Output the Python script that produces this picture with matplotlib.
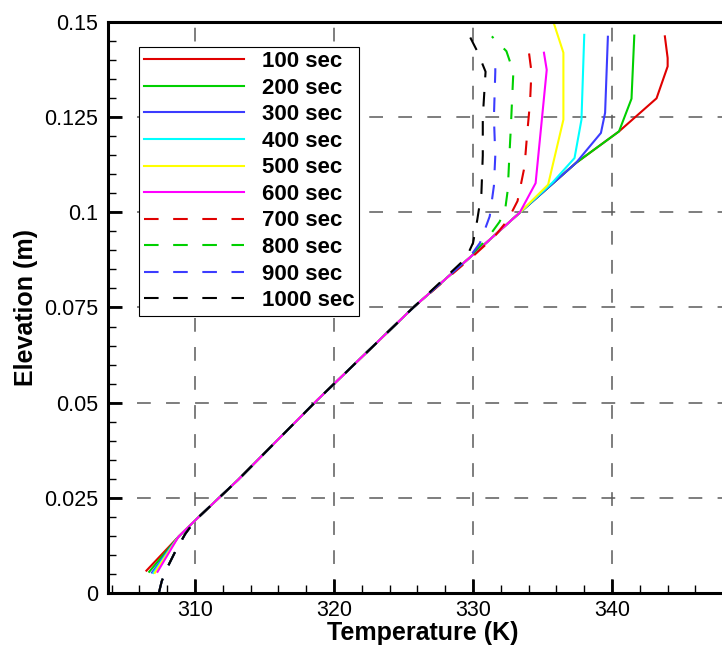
import matplotlib
matplotlib.use("Agg")
import matplotlib.pyplot as plt
from matplotlib.ticker import MultipleLocator, FuncFormatter

plt.rcParams['font.family'] = ['Liberation Sans', 'DejaVu Sans']

# shared part of the profile (bottom to mid-height)
trunk_T = [310.0, 313.1, 318.8, 325.7, 330.0, 333.35]
trunk_z = [0.019, 0.0297, 0.0507, 0.075, 0.0889, 0.0999]

dash_trunk_T = [307.4, 307.6, 308.0, 308.6, 309.3, 310.0, 313.1, 318.8, 325.7]
dash_trunk_z = [0.0, 0.003, 0.0066, 0.011, 0.0155, 0.019, 0.0297, 0.0507, 0.075]

labels = ['100 sec', '200 sec', '300 sec', '400 sec', '500 sec',
          '600 sec', '700 sec', '800 sec', '900 sec', '1000 sec']
colors = ['#e00000', '#00d000', '#3c3cff', '#00ffff', '#ffff00',
          '#ff00ff', '#e00000', '#00d000', '#3c3cff', '#000000']
styles = ['-'] * 6 + ['--'] * 4

# per-series bottom and top sections
bottom_T = [
    [306.5, 308.8], [306.7, 308.8], [306.9, 308.8],
    [307.0, 308.8], [307.1, 308.8], [307.3, 308.8],
]
bottom_z = [
    [0.0058, 0.0147], [0.0055, 0.0147], [0.0053, 0.0147],
    [0.0052, 0.0147], [0.0052, 0.0147], [0.0055, 0.0147],
]
top_T = [
    [337.4, 340.5, 343.2, 344.0, 344.0, 343.8],
    [337.4, 340.5, 341.4, 341.6],
    [337.4, 339.2, 339.5, 339.7],
    [335.7, 337.3, 337.8, 338.0],
    [335.4, 336.5, 336.5, 335.7],
    [334.5, 335.3, 335.1],
    [330.0, 331.5, 332.5, 333.2, 333.7, 333.9, 334.1, 334.2, 333.9],
    [329.8, 331.0, 331.9, 332.3, 332.5, 332.6, 332.7, 332.8, 332.9, 332.4, 331.35],
    [329.7, 330.5, 331.2, 331.5, 331.6, 331.5, 331.6, 331.6],
    [329.5, 330.0, 330.3, 330.6, 330.7, 330.7, 330.9, 330.3, 329.8],
]
top_z = [
    [0.113, 0.1213, 0.130, 0.1384, 0.1406, 0.1463],
    [0.113, 0.1213, 0.1299, 0.1465],
    [0.113, 0.1209, 0.1262, 0.1462],
    [0.1078, 0.1143, 0.1244, 0.1467],
    [0.1073, 0.1244, 0.142, 0.151],
    [0.1077, 0.1375, 0.142],
    [0.0885, 0.0935, 0.098, 0.103, 0.112, 0.121, 0.129, 0.137, 0.1455],
    [0.0885, 0.093, 0.0975, 0.1005, 0.106, 0.114, 0.121, 0.129, 0.137, 0.1424, 0.1463],
    [0.088, 0.092, 0.099, 0.107, 0.115, 0.125, 0.137, 0.1405],
    [0.088, 0.092, 0.098, 0.105, 0.115, 0.125, 0.137, 0.1424, 0.146],
]

fig = plt.figure(figsize=(7.22, 6.46), dpi=100)
ax = fig.add_axes([0.1489, 0.0825, 0.874, 0.883])

for i in range(10):
    if i < 6:
        T = bottom_T[i] + trunk_T + top_T[i]
        z = bottom_z[i] + trunk_z + top_z[i]
    else:
        T = dash_trunk_T + top_T[i]
        z = dash_trunk_z + top_z[i]
    line, = ax.plot(T, z, color=colors[i], linestyle=styles[i], lw=1.5,
                    label=labels[i])
    if styles[i] == '--':
        line.set_dashes((7, 7))

ax.set_xlim(303.7, 349.1)
ax.set_ylim(0, 0.15)
ax.set_xticks([310, 320, 330, 340])
ax.set_yticks([0, 0.025, 0.05, 0.075, 0.1, 0.125, 0.15])
ax.xaxis.set_minor_locator(MultipleLocator(2))
ax.yaxis.set_minor_locator(MultipleLocator(0.005))
ax.yaxis.set_major_formatter(FuncFormatter(lambda v, p: f'{v:g}'))

ax.tick_params(which='major', direction='in', length=10, width=2.0,
               labelsize=15.5, pad=7)
ax.tick_params(axis='x', which='major', pad=5)
ax.tick_params(which='minor', direction='in', length=5.5, width=1.0)
ax.tick_params(top=False, right=False, which='both')

for side in ['left', 'bottom', 'top']:
    ax.spines[side].set_linewidth(2.2)
ax.spines['right'].set_visible(False)

ax.grid(True, which='major', color='#5a5a5a', linewidth=1.1,
        linestyle=(0, (9, 10)))
ax.set_axisbelow(True)

ax.set_xlabel('Temperature (K)', fontsize=18, fontweight='bold', labelpad=0)
ax.set_ylabel('Elevation (m)', fontsize=18, fontweight='bold', labelpad=4)

leg = ax.legend(loc='upper left', bbox_to_anchor=(0.0504, 0.9572),
                borderaxespad=0, prop={'weight': 'bold', 'size': 16},
                handlelength=4.5, handletextpad=0.8, labelspacing=0.25,
                borderpad=0.2, fancybox=False, framealpha=1,
                edgecolor='black')
leg.get_frame().set_linewidth(0.8)

fig.savefig('out.png', dpi=100)
